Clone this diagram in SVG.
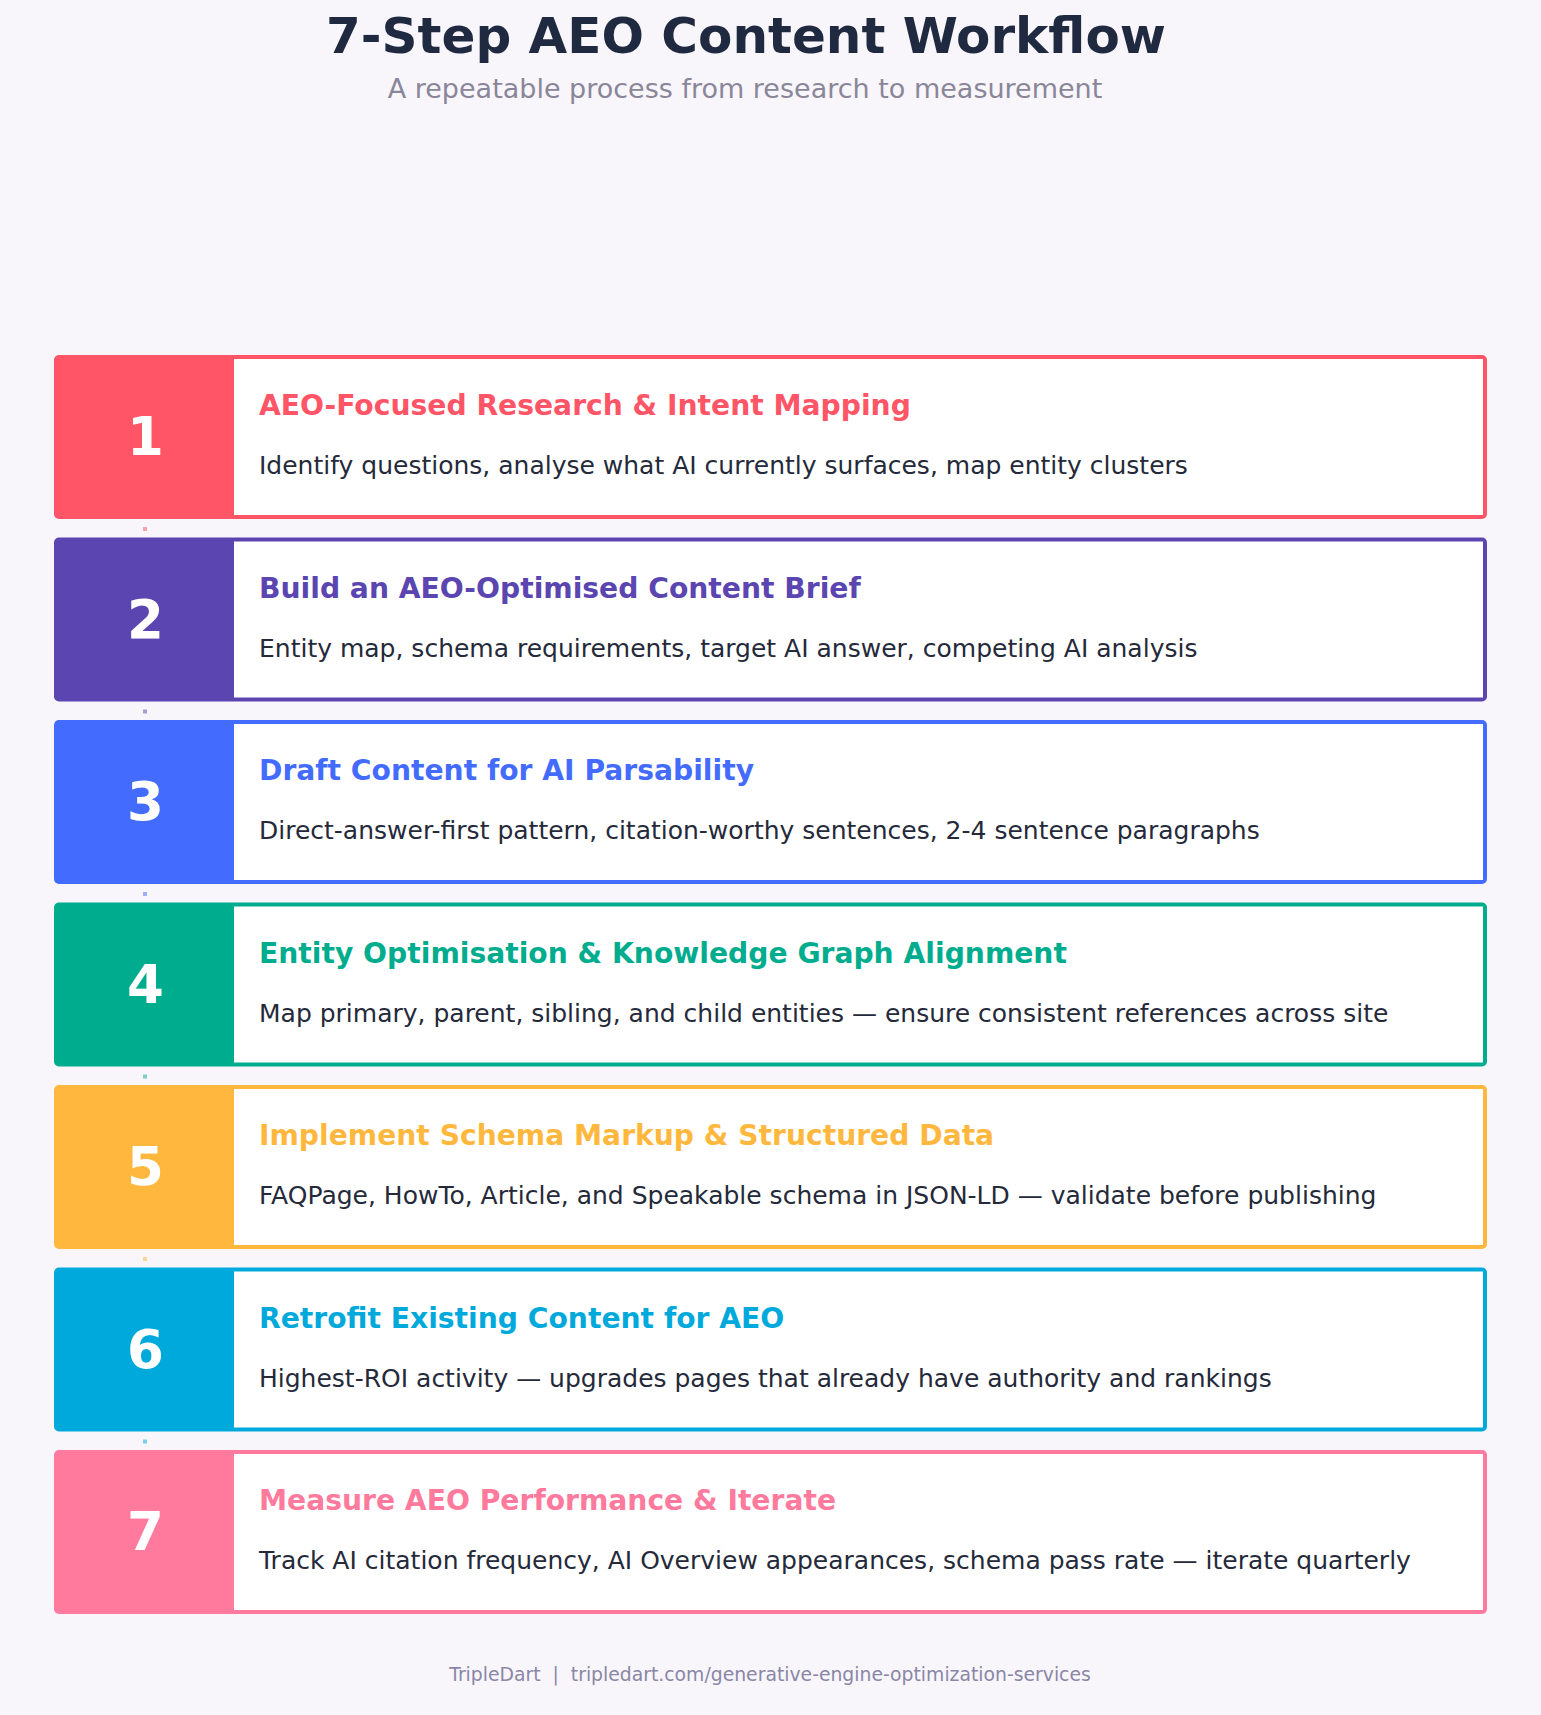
<svg xmlns="http://www.w3.org/2000/svg" width="1541" height="1715" viewBox="0 0 1541 1715">
<style>
.bg{fill:#f8f6fb}
.inner{fill:#ffffff}
.h1{font-family:"DejaVu Sans",sans-serif;font-weight:bold;font-size:50px;fill:#1f2940;text-anchor:middle}
.sub{font-family:"DejaVu Sans",sans-serif;font-size:27px;fill:#8a8699;text-anchor:middle}
.num{font-family:"DejaVu Sans",sans-serif;font-weight:bold;font-size:53px;fill:#ffffff;text-anchor:middle}
.ttl{font-family:"DejaVu Sans",sans-serif;font-weight:bold;font-size:28.2px}
.desc{font-family:"DejaVu Sans",sans-serif;font-size:25px;fill:#252a3a}
.foot{font-family:"DejaVu Sans",sans-serif;font-size:18.8px;fill:#8a87a6;text-anchor:middle;white-space:pre}
.dot{stroke-width:4;opacity:0.5}
</style>
<rect class="bg" x="0" y="0" width="1541" height="1715"/>
<text class="h1" x="746" y="53">7-Step AEO Content Workflow</text>
<text class="sub" x="745" y="98">A repeatable process from research to measurement</text>

<g id="connectors">
<line class="dot" x1="145" y1="527" x2="145" y2="531" stroke="#ff5566"/>
<line class="dot" x1="145" y1="709.5" x2="145" y2="713.5" stroke="#5b45b0"/>
<line class="dot" x1="145" y1="892" x2="145" y2="896" stroke="#436cff"/>
<line class="dot" x1="145" y1="1074.5" x2="145" y2="1078.5" stroke="#00ac8e"/>
<line class="dot" x1="145" y1="1257" x2="145" y2="1261" stroke="#ffb83d"/>
<line class="dot" x1="145" y1="1439.5" x2="145" y2="1443.5" stroke="#00a9db"/>
</g>

<g id="step1">
<rect x="54" y="355" width="1433" height="164" rx="5" fill="#ff5566"/>
<rect class="inner" x="234" y="359" width="1249" height="156"/>
<text class="num" x="145.5" y="455">1</text>
<text class="ttl" x="259" y="415" fill="#ff5566">AEO-Focused Research &amp; Intent Mapping</text>
<text class="desc" x="259" y="474">Identify questions, analyse what AI currently surfaces, map entity clusters</text>
</g>
<g id="step2">
<rect x="54" y="537.5" width="1433" height="164" rx="5" fill="#5b45b0"/>
<rect class="inner" x="234" y="541.5" width="1249" height="156"/>
<text class="num" x="145.5" y="637.5">2</text>
<text class="ttl" x="259" y="597.5" fill="#5b45b0">Build an AEO-Optimised Content Brief</text>
<text class="desc" x="259" y="656.5">Entity map, schema requirements, target AI answer, competing AI analysis</text>
</g>
<g id="step3">
<rect x="54" y="720" width="1433" height="164" rx="5" fill="#436cff"/>
<rect class="inner" x="234" y="724" width="1249" height="156"/>
<text class="num" x="145.5" y="820">3</text>
<text class="ttl" x="259" y="780" fill="#436cff">Draft Content for AI Parsability</text>
<text class="desc" x="259" y="839">Direct-answer-first pattern, citation-worthy sentences, 2-4 sentence paragraphs</text>
</g>
<g id="step4">
<rect x="54" y="902.5" width="1433" height="164" rx="5" fill="#00ac8e"/>
<rect class="inner" x="234" y="906.5" width="1249" height="156"/>
<text class="num" x="145.5" y="1002.5">4</text>
<text class="ttl" x="259" y="962.5" fill="#00ac8e">Entity Optimisation &amp; Knowledge Graph Alignment</text>
<text class="desc" x="259" y="1021.5">Map primary, parent, sibling, and child entities — ensure consistent references across site</text>
</g>
<g id="step5">
<rect x="54" y="1085" width="1433" height="164" rx="5" fill="#ffb83d"/>
<rect class="inner" x="234" y="1089" width="1249" height="156"/>
<text class="num" x="145.5" y="1185">5</text>
<text class="ttl" x="259" y="1145" fill="#ffb83d">Implement Schema Markup &amp; Structured Data</text>
<text class="desc" x="259" y="1204">FAQPage, HowTo, Article, and Speakable schema in JSON-LD — validate before publishing</text>
</g>
<g id="step6">
<rect x="54" y="1267.5" width="1433" height="164" rx="5" fill="#00a9db"/>
<rect class="inner" x="234" y="1271.5" width="1249" height="156"/>
<text class="num" x="145.5" y="1367.5">6</text>
<text class="ttl" x="259" y="1327.5" fill="#00a9db">Retrofit Existing Content for AEO</text>
<text class="desc" x="259" y="1386.5">Highest-ROI activity — upgrades pages that already have authority and rankings</text>
</g>
<g id="step7">
<rect x="54" y="1450" width="1433" height="164" rx="5" fill="#ff7a9c"/>
<rect class="inner" x="234" y="1454" width="1249" height="156"/>
<text class="num" x="145.5" y="1550">7</text>
<text class="ttl" x="259" y="1510" fill="#ff7a9c">Measure AEO Performance &amp; Iterate</text>
<text class="desc" x="259" y="1569">Track AI citation frequency, AI Overview appearances, schema pass rate — iterate quarterly</text>
</g>

<text class="foot" x="770" y="1681">TripleDart  |  tripledart.com/generative-engine-optimization-services</text>
</svg>
